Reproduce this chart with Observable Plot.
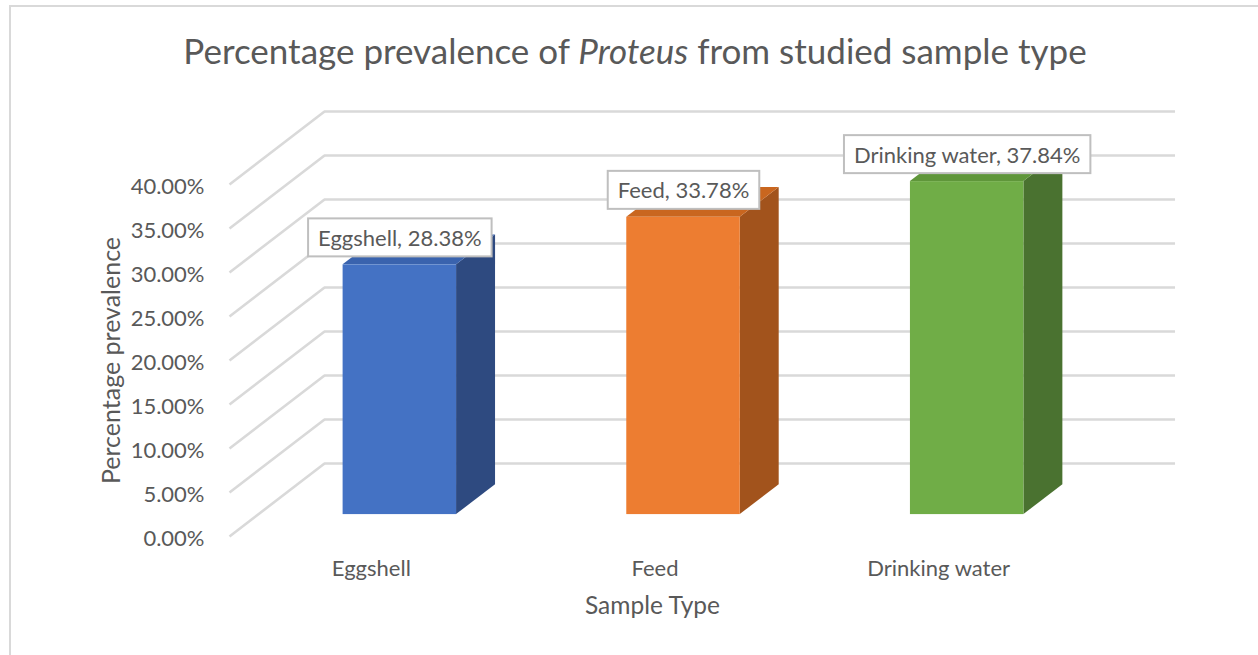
<!DOCTYPE html>
<html>
<head>
<meta charset="utf-8">
<script src="https://cdn.jsdelivr.net/npm/d3@7"></script>
<script src="https://cdn.jsdelivr.net/npm/@observablehq/plot@0.6"></script>
<style>
  html, body { margin: 0; padding: 0; background: #fff; }
  body { width: 1258px; height: 655px; position: relative; overflow: hidden; font-family: Lato, "Open Sans", sans-serif; }
  #frame { position: absolute; left: 9px; top: 5px; width: 1400px; height: 800px; border: 2px solid #d9d9d9; box-sizing: border-box; }
  #title { position: absolute; left: 0; width: 1270px; top: 27px; text-align: center; font-size: 35px; color: #595959; line-height: 46px; white-space: nowrap; }
  #chart { position: absolute; left: 0; top: 85px; }
</style>
</head>
<body>
<div id="frame"></div>
<div id="title">Percentage prevalence of <i>Proteus</i> from studied sample type</div>
<div id="chart"></div>
<script>
// ---- data ----
const categories = ["Eggshell", "Feed", "Drinking water"];
const values = [28.38, 33.78, 37.84];
const tickValues = [0, 5, 10, 15, 20, 25, 30, 35, 40];
const xTitle = "Sample Type";
const yTitle = "Percentage prevalence";

// ---- styles / projection constants ----
const frontColors = ["#4472C4", "#ED7D31", "#70AD47"];
const sideColors  = ["#2E4A80", "#A2531C", "#4A7230"];
const topColors   = ["#3A63AE", "#C9661F", "#5F963A"];
const DX = 0.335;   // x units per full depth
const DY = 8.3;     // y units per full depth
const Z0 = 0.3, Z1 = 0.71; // bar depth span
const W = 0.40;     // bar width (x units)
const textColor = "#595959";
const gridColor = "#d9d9d9";

const bars = categories.map((c, i) => ({cat: c, i, v: values[i]}));
const labelText = d => `${d.cat}, ${d.v.toFixed(2)}%`;

const marks = [];
// back wall gridlines
marks.push(Plot.ruleY(tickValues, {y: t => t + DY, x1: -0.5 + DX, x2: 2.5 + DX, stroke: gridColor, strokeWidth: 2.6}));
// side wall diagonals
marks.push(Plot.link(tickValues, {x1: -0.5, y1: t => t, x2: -0.5 + DX, y2: t => t + DY, stroke: gridColor, strokeWidth: 2.6}));

bars.forEach(b => {
  const fx1 = b.i - W / 2, fx2 = b.i + W / 2;
  // side face
  marks.push(Plot.areaY([
    {x: fx2 + Z0 * DX, y1: Z0 * DY, y2: b.v + Z0 * DY},
    {x: fx2 + Z1 * DX, y1: Z1 * DY, y2: b.v + Z1 * DY}
  ], {x: "x", y1: "y1", y2: "y2", fill: sideColors[b.i]}));
  // top face
  marks.push(Plot.areaX([
    {y: b.v + Z0 * DY, x1: fx1 + Z0 * DX, x2: fx2 + Z0 * DX},
    {y: b.v + Z1 * DY, x1: fx1 + Z1 * DX, x2: fx2 + Z1 * DX}
  ], {y: "y", x1: "x1", x2: "x2", fill: topColors[b.i]}));
  // front face
  marks.push(Plot.rect([b], {x1: fx1 + Z0 * DX, x2: fx2 + Z0 * DX, y1: Z0 * DY, y2: d => d.v + Z0 * DY, fill: frontColors[b.i]}));
});

// tick labels
marks.push(Plot.text(tickValues, {x: -0.5, y: t => t, text: t => t.toFixed(2) + "%", textAnchor: "end", dx: -25, dy: 2, fill: textColor, fontSize: 22}));
// category labels
marks.push(Plot.text(bars, {x: "i", y: 0, text: "cat", dy: 32, fill: textColor, fontSize: 22}));
// data labels
marks.push(Plot.text(bars, {
  x: d => d.i + Z0 * DX, y: d => d.v + Z0 * DY, dy: -26,
  text: labelText, fill: textColor, fontSize: 22
}));
// axis titles
marks.push(Plot.text([xTitle], {frameAnchor: "bottom", lineAnchor: "middle", textAnchor: "middle", dx: 23, dy: -49, fill: textColor, fontSize: 24.5}));
marks.push(Plot.text([yTitle], {frameAnchor: "left", lineAnchor: "middle", textAnchor: "middle", dx: 111, dy: -10, rotate: -90, fill: textColor, fontSize: 25}));

const svg = Plot.plot({
  width: 1258,
  height: 570,
  margin: 0,
  style: {fontFamily: "Lato, 'Open Sans', sans-serif", background: "transparent", overflow: "visible"},
  x: {type: "linear", domain: [-0.5, 2.5], range: [229, 1080], axis: null},
  y: {type: "linear", domain: [0, 40], range: [451, 99], axis: null},
  marks
});
document.getElementById("chart").appendChild(svg);

// white boxes behind data labels
const labelSet = new Set(bars.map(labelText));
svg.querySelectorAll("text").forEach(t => {
  if (!labelSet.has(t.textContent)) return;
  const bb = t.getBBox();
  const r = document.createElementNS("http://www.w3.org/2000/svg", "rect");
  const padX = 10, h = 38;
  r.setAttribute("x", bb.x - padX);
  r.setAttribute("y", bb.y + bb.height / 2 - h / 2);
  r.setAttribute("width", bb.width + 2 * padX);
  r.setAttribute("height", h);
  r.setAttribute("fill", "#fff");
  r.setAttribute("stroke", "#bfbfbf");
  r.setAttribute("stroke-width", 2);
  const tr = t.getAttribute("transform");
  if (tr) r.setAttribute("transform", tr);
  t.parentNode.insertBefore(r, t);
});
</script>
</body>
</html>
